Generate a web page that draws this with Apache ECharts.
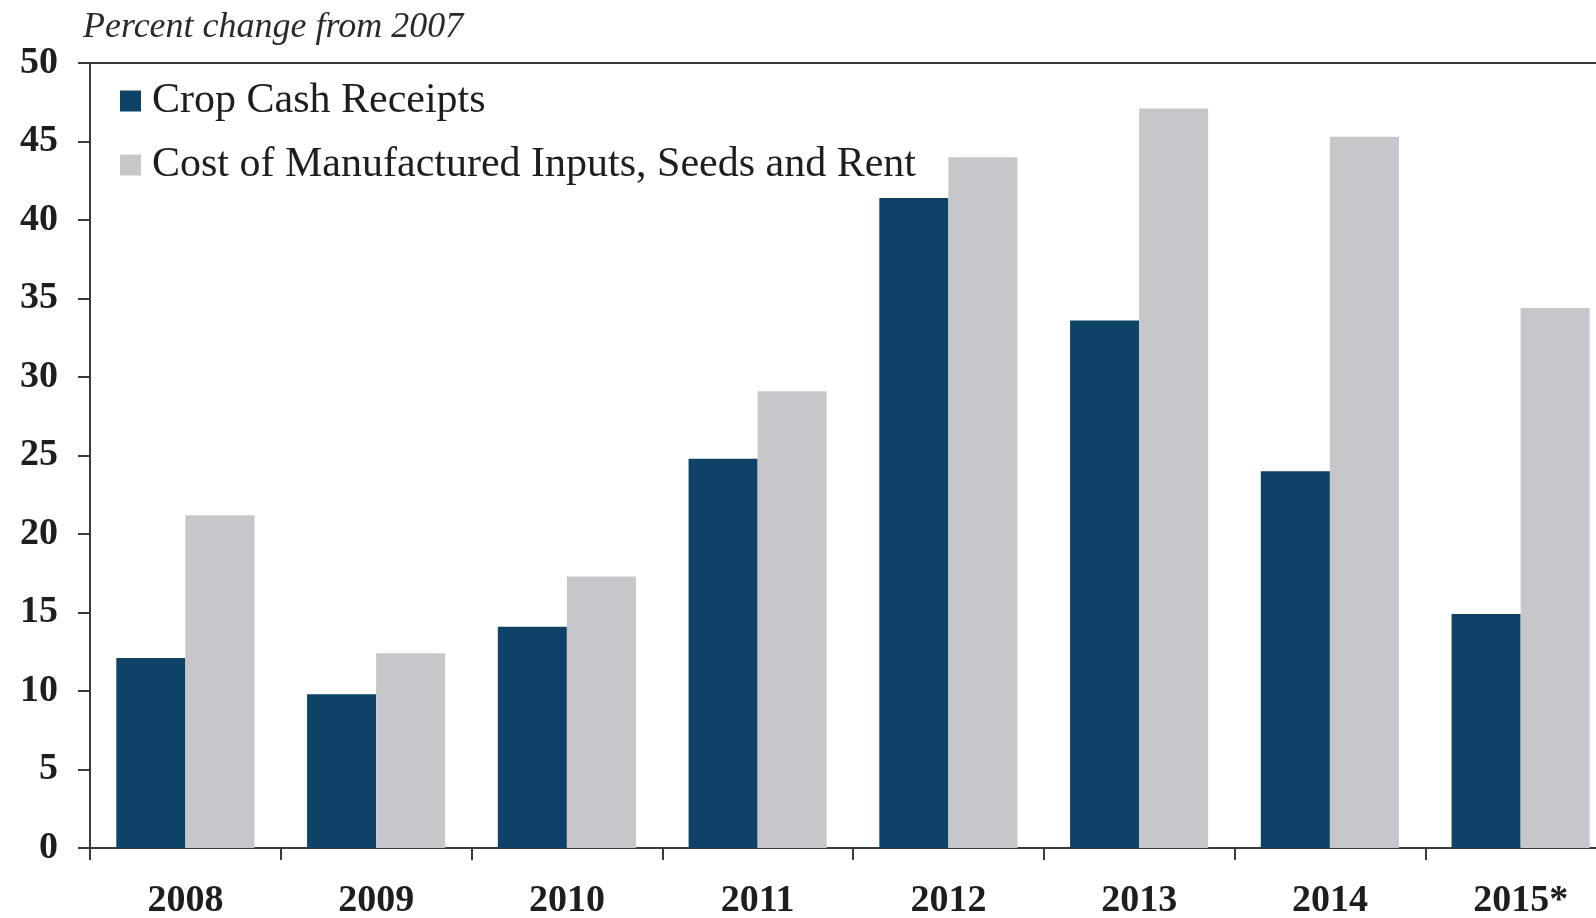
<!DOCTYPE html>
<html>
<head>
<meta charset="utf-8">
<script src="https://cdn.jsdelivr.net/npm/echarts@6/dist/echarts.min.js"></script>
<style>
html,body{margin:0;padding:0;background:#fff;}
#chart{width:1596px;height:918px;}
</style>
</head>
<body>
<div id="chart"></div>
<script>
const categories = ['2008','2009','2010','2011','2012','2013','2014','2015*'];
const cropCashReceipts = [12.1, 9.8, 14.1, 24.8, 41.4, 33.6, 24.0, 14.9];
const costOfInputs = [21.2, 12.4, 17.3, 29.1, 44.0, 47.1, 45.3, 34.4];
const seriesNames = ['Crop Cash Receipts', 'Cost of Manufactured Inputs, Seeds and Rent'];
const titleText = 'Percent change from 2007';

const FONT = '"Liberation Serif", "DejaVu Serif", serif';
const TEXT = '#1e1e1e';
const AXIS = '#3a3a3a';

const chart = echarts.init(document.getElementById('chart'), null, {renderer: 'canvas'});
chart.setOption({
  animation: false,
  backgroundColor: '#ffffff',
  title: {
    text: titleText,
    left: 78,
    top: 5,
    textStyle: {fontFamily: FONT, fontStyle: 'italic', fontWeight: 'normal', fontSize: 36, color: '#2a2a2a'}
  },
  legend: {
    orient: 'vertical',
    left: 115,
    top: 74,
    itemWidth: 21,
    itemHeight: 21,
    itemGap: 20,
    icon: 'rect',
    selectedMode: false,
    textStyle: {fontFamily: FONT, fontSize: 42, color: TEXT, lineHeight: 44, padding: [0, 0, 0, 6]},
    data: seriesNames
  },
  grid: {left: 90, top: 63, width: 1526, height: 785, containLabel: false, outerBoundsMode: 'none'},
  xAxis: [{
    type: 'category',
    data: categories,
    position: 'bottom',
    axisLine: {show: true, lineStyle: {color: AXIS, width: 2}},
    axisTick: {show: true, length: 12, lineStyle: {color: AXIS, width: 2}},
    axisLabel: {margin: 34, fontFamily: FONT, fontWeight: 'bold', fontSize: 38, color: TEXT},
    splitLine: {show: false}
  }, {
    type: 'category',
    data: categories,
    position: 'top',
    axisLine: {show: true, lineStyle: {color: AXIS, width: 2}},
    axisTick: {show: false},
    axisLabel: {show: false},
    splitLine: {show: false}
  }],
  yAxis: {
    type: 'value',
    min: 0, max: 50, interval: 5,
    axisLine: {show: true, lineStyle: {color: AXIS, width: 2}},
    axisTick: {show: true, length: 12, lineStyle: {color: AXIS, width: 2}},
    axisLabel: {margin: 32, fontFamily: FONT, fontWeight: 'bold', fontSize: 38, color: TEXT},
    splitLine: {show: false}
  },
  series: [{
    name: seriesNames[0],
    type: 'bar',
    data: cropCashReceipts,
    barGap: '0%',
    barCategoryGap: '27.6%',
    itemStyle: {color: '#0e4267'}
  }, {
    name: seriesNames[1],
    type: 'bar',
    data: costOfInputs,
    barGap: '0%',
    barCategoryGap: '27.6%',
    itemStyle: {color: '#c5c7ca'}
  }]
});
</script>
</body>
</html>
